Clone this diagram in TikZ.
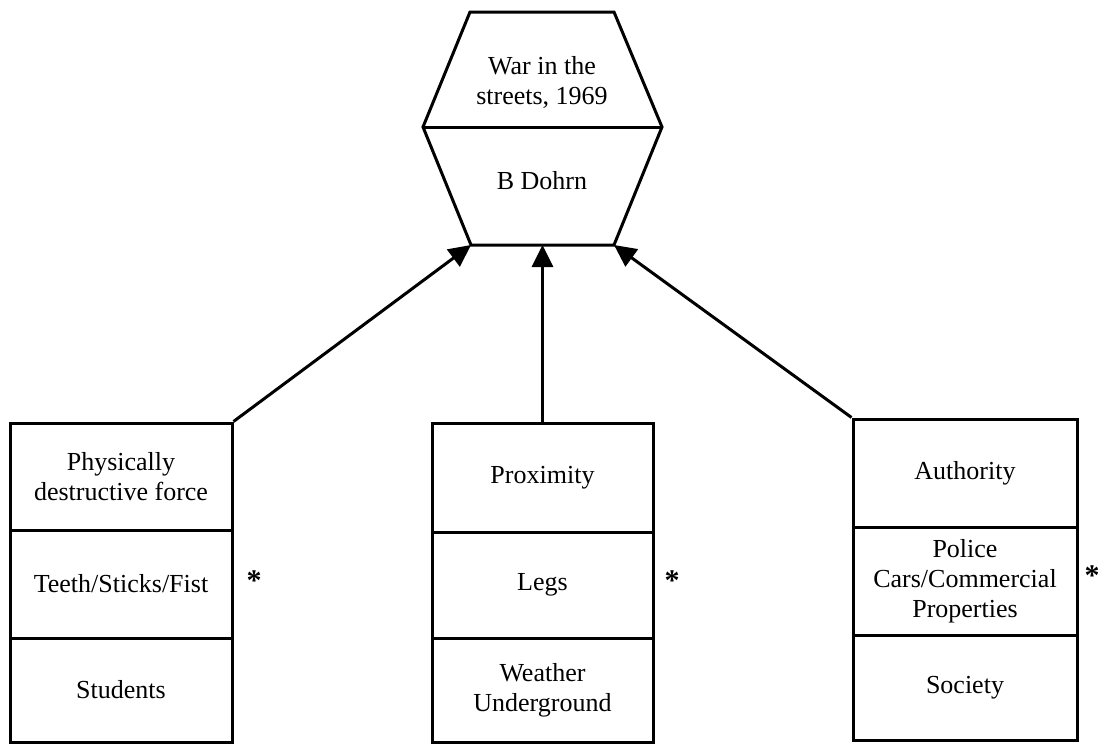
\documentclass[tikz,border=0pt]{standalone}
\usepackage{fontspec}
\setmainfont{Liberation Serif}
\usetikzlibrary{arrows.meta}
\begin{document}
\begin{tikzpicture}[x=1pt,y=-1pt,
  line width=3pt,
  cell/.style={draw, line width=3pt, rectangle, inner sep=0pt, align=center,
    font=\fontsize{26}{30}\selectfont},
  lbl/.style={inner sep=0pt, align=center, font=\fontsize{26}{30}\selectfont},
  star/.style={inner sep=0pt, font=\fontsize{30}{30}\selectfont\bfseries},
  arr/.style={-{Triangle[length=22pt,width=21pt]}, line width=3pt}]
\useasboundingbox (0,0) rectangle (1098,744);
% hexagon
\coordinate (h1) at (470,12);
\coordinate (h2) at (614,12);
\coordinate (h3) at (662,127);
\coordinate (h4) at (614,245);
\coordinate (h5) at (471,245);
\coordinate (h6) at (423,127);
\draw[line join=miter] (h1) -- (h2) -- (h3) -- (h4) -- (h5) -- (h6) -- cycle;
\draw (h6) -- (h3);
\node[lbl] (title) at (542,82) {War in the\\streets, 1969};
\node[lbl] (author) at (542,181) {B Dohrn};
% left box
\node[cell, minimum width=222pt, minimum height=107pt] (l1) at (121,476.5) {Physically\\destructive force};
\node[cell, minimum width=222pt, minimum height=108pt] (l2) at (121,584) {Teeth/Sticks/Fist};
\node[cell, minimum width=222pt, minimum height=104pt] (l3) at (121,690) {Students};
% middle box
\node[cell, minimum width=221pt, minimum height=109pt] (m1) at (542.5,477.5) {Proximity};
\node[cell, minimum width=221pt, minimum height=106pt] (m2) at (542.5,585) {Legs};
\node[cell, minimum width=221pt, minimum height=104pt] (m3) at (542.5,690) {Weather\\Underground};
% right box
\node[cell, minimum width=224pt, minimum height=108pt] (r1) at (965,473) {Authority};
\node[cell, minimum width=224pt, minimum height=108pt] (r2) at (965,581) {Police\\Cars/Commercial\\Properties};
\node[cell, minimum width=224pt, minimum height=105pt] (r3) at (965,687.5) {Society};
% asterisks
\node[star] (s1) at (254,581) {*};
\node[star] (s2) at (672,581) {*};
\node[star] (s3) at (1092,576) {*};
% arrows
\draw[arr] (l1.north east) -- (h5);
\draw[arr] (m1.north) -- (m1.north |- h5);
\draw[arr] (r1.north west) -- (h4);
\end{tikzpicture}
\end{document}
